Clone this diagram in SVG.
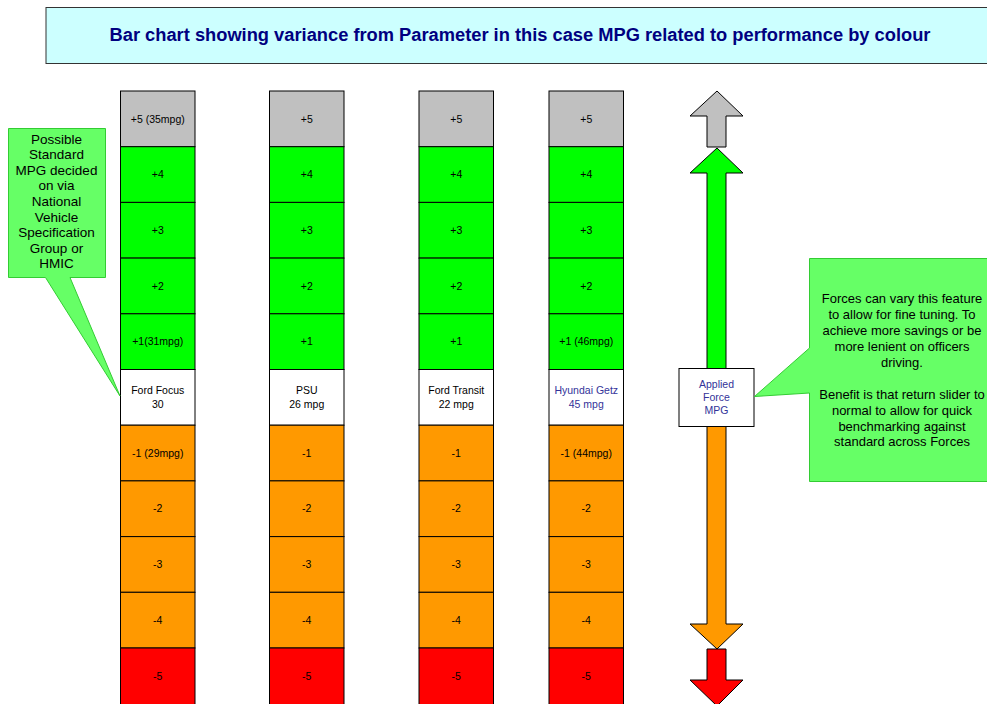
<svg xmlns="http://www.w3.org/2000/svg" width="987" height="704" viewBox="0 0 987 704">
<style>
text{font-family:"Liberation Sans",Arial,sans-serif;}
.c{stroke:#000;stroke-width:1;}
.g5{fill:#C0C0C0}.gr{fill:#00FF00}.wh{fill:#FFFFFF}.or{fill:#FF9900}.rd{fill:#FF0000}
.t{font-size:10.5px;text-anchor:middle;fill:#000}
.tb{font-size:10.5px;text-anchor:middle;fill:#333399}
.call{fill:#66FF66;stroke:#33CC33;stroke-width:1}
.ct{font-size:13px;text-anchor:middle;fill:#000}
.ar{stroke:#000;stroke-width:1;stroke-linejoin:miter}
</style>
<g id="title">
<rect x="46" y="7.5" width="950" height="56" fill="#CCFFFF" stroke="#333" stroke-width="1"/>
<text x="520" y="41" font-size="18.3" font-weight="bold" fill="#000080" text-anchor="middle">Bar chart showing variance from Parameter in this case MPG related to performance by colour</text>
</g>
<g id="col-ford-focus" transform="translate(120.5,0)">
<rect class="c g5" x="0" y="91" width="74.5" height="55.7"/><text class="t" x="37.25" y="122.5">+5 (35mpg)</text>
<rect class="c gr" x="0" y="146.7" width="74.5" height="55.7"/><text class="t" x="37.25" y="178.2">+4</text>
<rect class="c gr" x="0" y="202.4" width="74.5" height="55.7"/><text class="t" x="37.25" y="233.9">+3</text>
<rect class="c gr" x="0" y="258.1" width="74.5" height="55.7"/><text class="t" x="37.25" y="289.6">+2</text>
<rect class="c gr" x="0" y="313.8" width="74.5" height="55.7"/><text class="t" x="37.25" y="345.3">+1(31mpg)</text>
<rect class="c wh" x="0" y="369.5" width="74.5" height="55.7"/><text class="t" x="37.25" y="394">Ford Focus</text><text class="t" x="37.25" y="408">30</text>
<rect class="c or" x="0" y="425.2" width="74.5" height="55.7"/><text class="t" x="37.25" y="456.7">-1 (29mpg)</text>
<rect class="c or" x="0" y="480.9" width="74.5" height="55.7"/><text class="t" x="37.25" y="512.4">-2</text>
<rect class="c or" x="0" y="536.6" width="74.5" height="55.7"/><text class="t" x="37.25" y="568.1">-3</text>
<rect class="c or" x="0" y="592.3" width="74.5" height="55.7"/><text class="t" x="37.25" y="623.8">-4</text>
<rect class="c rd" x="0" y="648" width="74.5" height="57"/><text class="t" x="37.25" y="679.5">-5</text>
</g>
<g id="col-psu" transform="translate(269.5,0)">
<rect class="c g5" x="0" y="91" width="74.5" height="55.7"/><text class="t" x="37.25" y="122.5">+5</text>
<rect class="c gr" x="0" y="146.7" width="74.5" height="55.7"/><text class="t" x="37.25" y="178.2">+4</text>
<rect class="c gr" x="0" y="202.4" width="74.5" height="55.7"/><text class="t" x="37.25" y="233.9">+3</text>
<rect class="c gr" x="0" y="258.1" width="74.5" height="55.7"/><text class="t" x="37.25" y="289.6">+2</text>
<rect class="c gr" x="0" y="313.8" width="74.5" height="55.7"/><text class="t" x="37.25" y="345.3">+1</text>
<rect class="c wh" x="0" y="369.5" width="74.5" height="55.7"/><text class="t" x="37.25" y="394">PSU</text><text class="t" x="37.25" y="408">26 mpg</text>
<rect class="c or" x="0" y="425.2" width="74.5" height="55.7"/><text class="t" x="37.25" y="456.7">-1</text>
<rect class="c or" x="0" y="480.9" width="74.5" height="55.7"/><text class="t" x="37.25" y="512.4">-2</text>
<rect class="c or" x="0" y="536.6" width="74.5" height="55.7"/><text class="t" x="37.25" y="568.1">-3</text>
<rect class="c or" x="0" y="592.3" width="74.5" height="55.7"/><text class="t" x="37.25" y="623.8">-4</text>
<rect class="c rd" x="0" y="648" width="74.5" height="57"/><text class="t" x="37.25" y="679.5">-5</text>
</g>
<g id="col-ford-transit" transform="translate(419,0)">
<rect class="c g5" x="0" y="91" width="74.5" height="55.7"/><text class="t" x="37.25" y="122.5">+5</text>
<rect class="c gr" x="0" y="146.7" width="74.5" height="55.7"/><text class="t" x="37.25" y="178.2">+4</text>
<rect class="c gr" x="0" y="202.4" width="74.5" height="55.7"/><text class="t" x="37.25" y="233.9">+3</text>
<rect class="c gr" x="0" y="258.1" width="74.5" height="55.7"/><text class="t" x="37.25" y="289.6">+2</text>
<rect class="c gr" x="0" y="313.8" width="74.5" height="55.7"/><text class="t" x="37.25" y="345.3">+1</text>
<rect class="c wh" x="0" y="369.5" width="74.5" height="55.7"/><text class="t" x="37.25" y="394">Ford Transit</text><text class="t" x="37.25" y="408">22 mpg</text>
<rect class="c or" x="0" y="425.2" width="74.5" height="55.7"/><text class="t" x="37.25" y="456.7">-1</text>
<rect class="c or" x="0" y="480.9" width="74.5" height="55.7"/><text class="t" x="37.25" y="512.4">-2</text>
<rect class="c or" x="0" y="536.6" width="74.5" height="55.7"/><text class="t" x="37.25" y="568.1">-3</text>
<rect class="c or" x="0" y="592.3" width="74.5" height="55.7"/><text class="t" x="37.25" y="623.8">-4</text>
<rect class="c rd" x="0" y="648" width="74.5" height="57"/><text class="t" x="37.25" y="679.5">-5</text>
</g>
<g id="col-hyundai-getz" transform="translate(549,0)">
<rect class="c g5" x="0" y="91" width="74.5" height="55.7"/><text class="t" x="37.25" y="122.5">+5</text>
<rect class="c gr" x="0" y="146.7" width="74.5" height="55.7"/><text class="t" x="37.25" y="178.2">+4</text>
<rect class="c gr" x="0" y="202.4" width="74.5" height="55.7"/><text class="t" x="37.25" y="233.9">+3</text>
<rect class="c gr" x="0" y="258.1" width="74.5" height="55.7"/><text class="t" x="37.25" y="289.6">+2</text>
<rect class="c gr" x="0" y="313.8" width="74.5" height="55.7"/><text class="t" x="37.25" y="345.3">+1 (46mpg)</text>
<rect class="c wh" x="0" y="369.5" width="74.5" height="55.7"/><text class="tb" x="37.25" y="394">Hyundai Getz</text><text class="tb" x="37.25" y="408">45 mpg</text>
<rect class="c or" x="0" y="425.2" width="74.5" height="55.7"/><text class="t" x="37.25" y="456.7">-1 (44mpg)</text>
<rect class="c or" x="0" y="480.9" width="74.5" height="55.7"/><text class="t" x="37.25" y="512.4">-2</text>
<rect class="c or" x="0" y="536.6" width="74.5" height="55.7"/><text class="t" x="37.25" y="568.1">-3</text>
<rect class="c or" x="0" y="592.3" width="74.5" height="55.7"/><text class="t" x="37.25" y="623.8">-4</text>
<rect class="c rd" x="0" y="648" width="74.5" height="57"/><text class="t" x="37.25" y="679.5">-5</text>
</g>
<g id="slider">
<polygon class="ar" fill="#C0C0C0" points="717,91 743,116 726,116 726,147 707,147 707,116 690,116"/>
<polygon class="ar" fill="#00FF00" points="717,148 743,173 726,173 726,369 707,369 707,173 690,173"/>
<polygon class="ar" fill="#FF9900" points="707,426 726,426 726,624 743,624 717,649 690,624 707,624"/>
<polygon class="ar" fill="#FF0000" points="707,649 726,649 726,680 743,680 717,706 690,680 707,680"/>
</g>
<g id="applied-force">
<rect x="679" y="368.5" width="75" height="58" fill="#FFFFFF" stroke="#000" stroke-width="1"/>
<text class="tb" x="716.5" y="388">Applied</text>
<text class="tb" x="716.5" y="401">Force</text>
<text class="tb" x="716.5" y="414">MPG</text>
</g>
<g id="callout-standard">
<path class="call" d="M8.5,128.5 H105.5 V277.5 H70 L120,396 L45.5,277.5 H8.5 Z"/>
<text class="ct" x="56.5" y="143.5" style="font-size:13.5px">Possible</text>
<text class="ct" x="56.5" y="159.1" style="font-size:13.5px">Standard</text>
<text class="ct" x="56.5" y="174.7" style="font-size:13.5px">MPG decided</text>
<text class="ct" x="56.5" y="190.3" style="font-size:13.5px">on via</text>
<text class="ct" x="56.5" y="205.9" style="font-size:13.5px">National</text>
<text class="ct" x="56.5" y="221.5" style="font-size:13.5px">Vehicle</text>
<text class="ct" x="56.5" y="237.1" style="font-size:13.5px">Specification</text>
<text class="ct" x="56.5" y="252.7" style="font-size:13.5px">Group or</text>
<text class="ct" x="56.5" y="268.3" style="font-size:13.5px">HMIC</text>
</g>
<g id="callout-forces">
<path class="call" d="M809.5,258.5 H1000 V481.5 H809.5 V393 L754.5,396.5 L809.5,348 Z"/>
<text class="ct" x="902" y="302.5">Forces can vary this feature</text>
<text class="ct" x="902" y="318.5">to allow for fine tuning. To</text>
<text class="ct" x="902" y="334.5">achieve more savings or be</text>
<text class="ct" x="902" y="350.5">more lenient on officers</text>
<text class="ct" x="902" y="366.5">driving.</text>
<text class="ct" x="902" y="398.5">Benefit is that return slider to</text>
<text class="ct" x="902" y="414.5">normal to allow for quick</text>
<text class="ct" x="902" y="430.5">benchmarking against</text>
<text class="ct" x="902" y="445.5">standard across Forces</text>
</g>
</svg>
